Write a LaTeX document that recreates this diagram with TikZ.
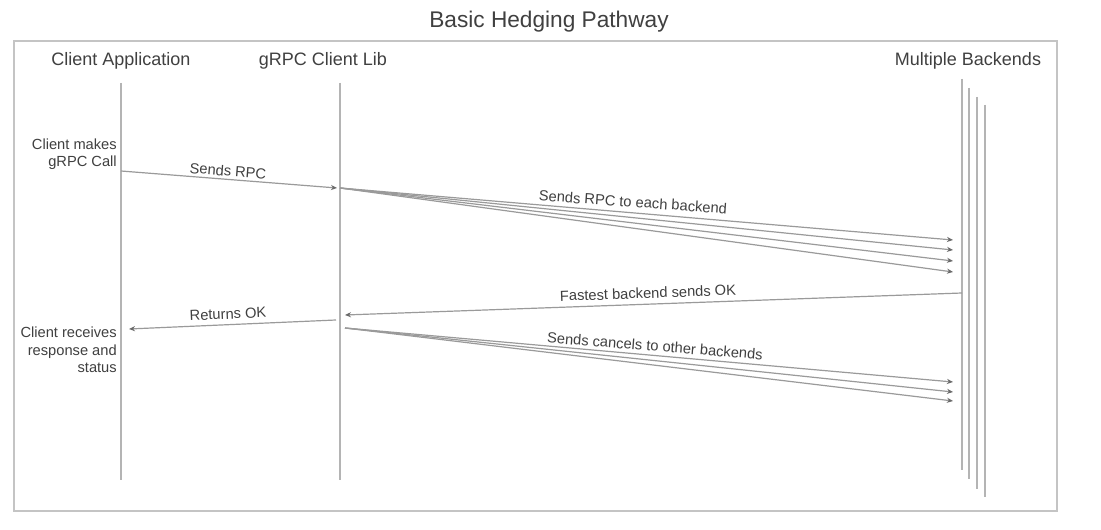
\documentclass[tikz,border=0pt]{standalone}
\usepackage{fontspec}
\setmainfont{Liberation Sans}
\usetikzlibrary{arrows.meta}
\definecolor{textgray}{HTML}{404040}
\definecolor{linegray}{HTML}{B4B4B4}
\definecolor{arrowgray}{HTML}{9A9A9A}
\definecolor{tipgray}{HTML}{6A6A6A}
\definecolor{framegray}{HTML}{C4C4C4}
\begin{document}
\begin{tikzpicture}[x=0.75pt,y=-0.75pt,
  txt/.style={text=textgray, inner sep=0pt},
  titlestyle/.style={txt, font=\fontsize{17}{20}\selectfont},
  head/.style={txt, font=\fontsize{13.5}{16}\selectfont},
  lbl/.style={txt, font=\fontsize{11}{13}\selectfont},
  side/.style={txt, font=\fontsize{11}{13}\selectfont, align=right, anchor=east},
  life/.style={draw=linegray, line width=1.4pt},
  msg/.style={draw=arrowgray, line width=0.9pt, -{Stealth[length=4.5pt,width=3.8pt,color=tipgray]}},
]
\useasboundingbox (0,0) rectangle (1101,530);
\fill[white] (0,0) rectangle (1101,530);

% frame and title
\draw[framegray, line width=1.4pt] (14,41) rectangle (1057,511);
\node[titlestyle] (title) at (549,22) {Basic Hedging Pathway};

% headers
\node[head] (hclient) at (121,61) {Client Application};
\node[head] (hgrpc) at (323,61) {gRPC Client Lib};
\node[head] (hback) at (968,61) {Multiple Backends};

% lifelines
\coordinate (clT) at (121,83);  \coordinate (clB) at (121,480);
\coordinate (glT) at (340,83);  \coordinate (glB) at (340,480);
\coordinate (b1T) at (962,79);  \coordinate (b1B) at (962,470);
\coordinate (b2T) at (969,88);  \coordinate (b2B) at (969,479);
\coordinate (b3T) at (977,97);  \coordinate (b3B) at (977,489);
\coordinate (b4T) at (985,105); \coordinate (b4B) at (985,497);
\draw[life] (clT) -- (clB);
\draw[life] (glT) -- (glB);
\draw[life] (b1T) -- (b1B);
\draw[life] (b2T) -- (b2B);
\draw[life] (b3T) -- (b3B);
\draw[life] (b4T) -- (b4B);

% side notes
\node[side] (makes) at (117,154) {Client makes\\gRPC Call};
\node[side] (recv) at (117,350) {Client receives\\response and\\status};

% Sends RPC
\coordinate (m1s) at (121,171); \coordinate (m1e) at (337,188);
\draw[msg] (m1s) -- (m1e);
\node[lbl, rotate=-4.5] (l1) at (228,171) {Sends RPC};

% fan to backends
\coordinate (f0) at (340,188);
\coordinate (f1) at (953,240);
\coordinate (f2) at (953,250);
\coordinate (f3) at (953,261);
\coordinate (f4) at (953,272);
\draw[msg] (f0) -- (f1);
\draw[msg] (f0) -- (f2);
\draw[msg] (f0) -- (f3);
\draw[msg] (f0) -- (f4);
\node[lbl, rotate=-4] (l2) at (633,202) {Sends RPC to each backend};

% fastest backend sends OK
\coordinate (okS) at (962,293); \coordinate (okE) at (345,315);
\draw[msg] (okS) -- (okE);
\node[lbl, rotate=2] (l3) at (648,293) {Fastest backend sends OK};

% returns OK
\coordinate (rS) at (336,320); \coordinate (rE) at (129,329);
\draw[msg] (rS) -- (rE);
\node[lbl, rotate=2.5] (l4) at (228,314) {Returns OK};

% cancels
\coordinate (c0) at (345,328);
\coordinate (c1) at (953,382);
\coordinate (c2) at (953,392);
\coordinate (c3) at (953,401);
\draw[msg] (c0) -- (c1);
\draw[msg] (c0) -- (c2);
\draw[msg] (c0) -- (c3);
\node[lbl, rotate=-4.5] (l5) at (655,346) {Sends cancels to other backends};
\end{tikzpicture}
\end{document}
